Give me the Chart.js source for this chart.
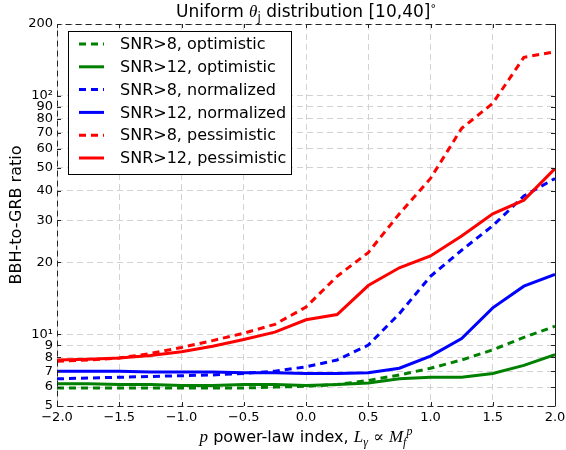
<!DOCTYPE html>
<html>
<head>
<meta charset="utf-8">
<script src="https://cdn.jsdelivr.net/npm/chart.js@4"></script>
<style>
  html, body { margin: 0; padding: 0; background: #ffffff; }
  #wrap { width: 566px; height: 450px; }
</style>
</head>
<body>
<div id="wrap"><canvas id="ratioChart" width="566" height="450"></canvas></div>
<script>
// power-law index p
const pValues = [-2, -1.75, -1.5, -1.25, -1, -0.75, -0.5, -0.25, 0, 0.25, 0.5, 0.75, 1, 1.25, 1.5, 1.75, 2];

// BBH-to-GRB ratio
const snr8Optimistic = [5.95, 5.95, 5.95, 5.95, 5.95, 5.95, 5.95, 6.0, 6.05, 6.15, 6.4, 6.75, 7.2, 7.8, 8.6, 9.7, 10.8];
const snr12Optimistic = [6.2, 6.2, 6.15, 6.15, 6.1, 6.1, 6.15, 6.15, 6.1, 6.15, 6.25, 6.5, 6.6, 6.6, 6.85, 7.4, 8.2];
const snr8Normalized = [6.5, 6.55, 6.6, 6.65, 6.7, 6.75, 6.85, 7.0, 7.3, 7.8, 9.0, 12.2, 17.5, 22.5, 28.5, 38, 45];
const snr12Normalized = [7.0, 7.0, 7.0, 6.95, 6.95, 6.95, 6.9, 6.9, 6.85, 6.85, 6.9, 7.2, 8.1, 9.6, 12.9, 15.9, 17.8];
const snr8Pessimistic = [7.7, 7.8, 7.95, 8.3, 8.8, 9.4, 10.1, 11.0, 13.0, 17.5, 22, 32, 45, 73, 93, 145, 153];
const snr12Pessimistic = [7.8, 7.85, 7.95, 8.15, 8.45, 8.9, 9.5, 10.2, 11.5, 12.1, 16, 19, 21.3, 25.8, 32, 36.5, 49.5];

// axis ticks
const yTicks = [5, 6, 7, 8, 9, 10, 20, 30, 40, 50, 60, 70, 80, 90, 100, 200];
const xTicks = [-2, -1.5, -1, -0.5, 0, 0.5, 1, 1.5, 2];

const seriesLabels = ['SNR>8, optimistic', 'SNR>12, optimistic', 'SNR>8, normalized',
                      'SNR>12, normalized', 'SNR>8, pessimistic', 'SNR>12, pessimistic'];
const seriesData = [snr8Optimistic, snr12Optimistic, snr8Normalized, snr12Normalized, snr8Pessimistic, snr12Pessimistic];
const seriesColors = ['#008000', '#008000', '#0000ff', '#0000ff', '#ff0000', '#ff0000'];
const seriesDashed = [true, false, true, false, true, false];

const DASH = [7, 5];
const SANS = '"DejaVu Sans", sans-serif';
const SERIF_IT = 'italic 17px "Liberation Serif", serif';

const datasets = seriesData.map((vals, i) => ({
    label: seriesLabels[i],
    data: vals.map((v, k) => ({ x: pValues[k], y: v })),
    borderColor: seriesColors[i],
    backgroundColor: seriesColors[i],
    borderWidth: 3,
    borderDash: seriesDashed[i] ? DASH : [],
    pointRadius: 0,
    tension: 0,
    fill: false,
    order: seriesData.length - i   // later series drawn on top
}));

// draw a line of mixed-font text centred on cx
function drawRich(ctx, parts, cx, cy) {
    let total = 0;
    parts.forEach(p => {
        ctx.font = p.font;
        p.w = ctx.measureText(p.text).width;
        total += p.w;
    });
    let x = cx - total / 2;
    parts.forEach(p => {
        ctx.font = p.font;
        ctx.fillText(p.text, x, cy + (p.dy || 0));
        x += p.w;
    });
}

const framePlugin = {
    id: 'frame',
    afterDatasetsDraw(chart) {
        const ctx = chart.ctx;
        const a = chart.chartArea;
        const xs = chart.scales.x;
        const ys = chart.scales.y;
        ctx.save();

        // spines
        ctx.strokeStyle = '#222';
        ctx.lineWidth = 1;
        ctx.setLineDash([6, 4]);
        ctx.beginPath();
        ctx.moveTo(a.left + 0.5, a.bottom + 0.5);
        ctx.lineTo(a.left + 0.5, a.top + 0.5);
        ctx.lineTo(a.right + 0.5, a.top + 0.5);
        ctx.moveTo(a.left + 0.5, a.bottom + 0.5);
        ctx.lineTo(a.right + 0.5, a.bottom + 0.5);
        ctx.stroke();
        ctx.setLineDash([]);
        ctx.beginPath();
        ctx.moveTo(a.right + 0.5, a.top + 0.5);
        ctx.lineTo(a.right + 0.5, a.bottom + 0.5);
        ctx.stroke();

        // inward tick marks
        ctx.beginPath();
        xTicks.forEach(t => {
            const px = Math.round(xs.getPixelForValue(t)) + 0.5;
            ctx.moveTo(px, a.bottom); ctx.lineTo(px, a.bottom - 4);
            ctx.moveTo(px, a.top); ctx.lineTo(px, a.top + 4);
        });
        yTicks.forEach(t => {
            const py = Math.round(ys.getPixelForValue(t)) + 0.5;
            ctx.moveTo(a.left, py); ctx.lineTo(a.left + 4, py);
            ctx.moveTo(a.right, py); ctx.lineTo(a.right - 4, py);
        });
        ctx.stroke();

        // legend
        const lx = 68.5, ly = 31.5, lw = 223, lh = 143;
        ctx.fillStyle = '#ffffff';
        ctx.fillRect(lx, ly, lw, lh);
        ctx.strokeStyle = '#000';
        ctx.strokeRect(lx, ly, lw, lh);
        ctx.font = '16px ' + SANS;
        ctx.textBaseline = 'middle';
        ctx.textAlign = 'left';
        seriesLabels.forEach((lab, i) => {
            const y = 44 + i * 22.8;
            ctx.strokeStyle = seriesColors[i];
            ctx.lineWidth = 3;
            ctx.setLineDash(seriesDashed[i] ? DASH : []);
            ctx.beginPath();
            ctx.moveTo(79, y); ctx.lineTo(104, y);
            ctx.stroke();
            ctx.fillStyle = '#000';
            ctx.fillText(lab, 120, y + 1);
        });
        ctx.setLineDash([]);

        // title
        ctx.fillStyle = '#000';
        ctx.textBaseline = 'alphabetic';
        const cx = (a.left + a.right) / 2;
        drawRich(ctx, [
            { text: 'Uniform ', font: '17px ' + SANS },
            { text: 'θ', font: SERIF_IT },
            { text: 'j', font: '12px ' + SANS, dy: 4 },
            { text: ' distribution [10,40]', font: '17px ' + SANS },
            { text: '°', font: '11px ' + SANS, dy: -5 }
        ], cx, 17);

        // x title
        drawRich(ctx, [
            { text: 'p', font: SERIF_IT },
            { text: ' power-law index, ', font: '16px ' + SANS },
            { text: 'L', font: SERIF_IT },
            { text: 'γ', font: 'italic 12px "Liberation Serif", serif', dy: 4 },
            { text: ' ∝ ', font: '16px "DejaVu Serif", serif' },
            { text: 'M', font: SERIF_IT },
            { text: 'f', font: 'italic 12px "Liberation Serif", serif', dy: 4 },
            { text: 'p', font: 'italic 12px "Liberation Serif", serif', dy: -7 }
        ], cx, 442);

        // y title
        ctx.translate(17, (a.top + a.bottom) / 2);
        ctx.rotate(-Math.PI / 2);
        ctx.textAlign = 'center';
        ctx.textBaseline = 'middle';
        ctx.font = '16px ' + SANS;
        ctx.fillText('BBH-to-GRB ratio', 0, 0);

        ctx.restore();
    }
};

const gridStyle = {
    color: '#d2d2d2',
    lineWidth: 1,
    drawTicks: false
};

new Chart(document.getElementById('ratioChart'), {
    type: 'line',
    data: { datasets },
    options: {
        responsive: false,
        animation: false,
        layout: { padding: { top: 24, right: 11, left: 0, bottom: 0 } },
        plugins: {
            legend: { display: false },
            title: { display: false },
            tooltip: { enabled: false }
        },
        scales: {
            x: {
                type: 'linear',
                min: -2,
                max: 2,
                afterBuildTicks: (scale) => { scale.ticks = xTicks.map(v => ({ value: v })); },
                afterFit: (scale) => {
                    scale.height = 44;
                    scale.paddingLeft = 0;
                    scale.paddingRight = 0;
                },
                grid: gridStyle,
                border: { display: false, dash: [6, 4] },
                ticks: {
                    color: '#000',
                    padding: 4,
                    maxRotation: 0,
                    font: { family: SANS, size: 13 },
                    callback: (v) => v.toFixed(1).replace('-', '\u2212')
                }
            },
            y: {
                type: 'logarithmic',
                min: 5,
                max: 200,
                afterBuildTicks: (scale) => { scale.ticks = yTicks.map(v => ({ value: v })); },
                afterFit: (scale) => {
                    scale.width = 57;
                    scale.paddingTop = 0;
                    scale.paddingBottom = 0;
                },
                grid: gridStyle,
                border: { display: false, dash: [6, 4] },
                ticks: {
                    color: '#000',
                    padding: 4,
                    autoSkip: false,
                    font: { family: SANS, size: 13 },
                    callback: (v) => v === 10 ? '10\u00b9' : (v === 100 ? '10\u00b2' : String(v))
                }
            }
        }
    },
    plugins: [framePlugin]
});
</script>
</body>
</html>
